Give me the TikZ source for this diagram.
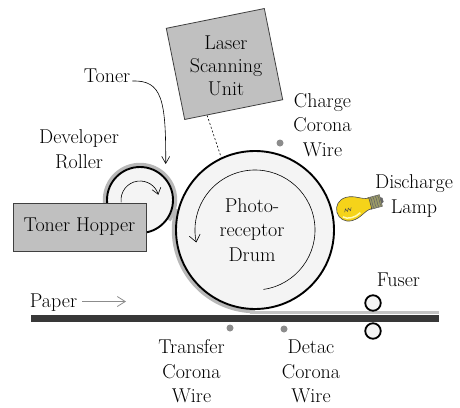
\documentclass[tikz,border=0pt]{standalone}
\usetikzlibrary{arrows.meta,calc}

\definecolor{boxgray}{HTML}{C0C0C0}
\definecolor{edgegray}{HTML}{404040}
\definecolor{paleface}{HTML}{F4F4F4}
\definecolor{tonergray}{HTML}{B8B8B8}
\definecolor{stripegray}{HTML}{C4C4C4}
\definecolor{papergray}{HTML}{383838}
\definecolor{wiregray}{HTML}{8C8C8C}
\definecolor{bulbyellow}{HTML}{F5D31A}
\definecolor{bulbbase}{HTML}{9C9C66}

\tikzset{
  lbl/.style={font=\rmfamily\fontsize{20}{24.5}\selectfont, align=center, inner sep=0pt},
  unitbox/.style={draw=edgegray, fill=boxgray, line width=0.8pt, inner sep=0pt},
  roll/.style={circle, draw=black, fill=paleface, line width=1.9pt, inner sep=0pt},
  wire/.style={circle, fill=wiregray, minimum size=7pt, inner sep=0pt},
  spin/.style={line width=0.6pt, -{Straight Barb[length=6pt,width=9pt]}},
  coat/.style={draw=tonergray, line width=3.5pt},
}

\begin{document}
\begin{tikzpicture}[x=1pt,y=-1pt]
\useasboundingbox (0,0) rectangle (460,407);

% toner coating on the roller and the drum
\draw[coat] (140,200) ++(160:35.5) arc[start angle=160, end angle=395, radius=35.5];
\draw[coat] (255,230) ++(195:81.5) arc[start angle=195, end angle=90, radius=81.5];

% paper with transferred toner
\fill[papergray] (31,315) rectangle (439,322);
\draw[stripegray, line width=3pt] (250,312.5) -- (439,312.5);

% developer roller
\node[roll, minimum size=66pt] (roller) at (140,200) {};
\draw[spin] (140,200) ++(173:19) arc[start angle=173, end angle=344, radius=19];

% photoreceptor drum
\node[roll, minimum size=158pt] (drum) at (255,230) {};
\draw[spin, -{Straight Barb[length=7pt,width=11pt]}] (255,230) ++(82:60) arc[start angle=82, end angle=-192, radius=60];
\node[lbl] (photo) at (252,230) {Photo-\\receptor\\Drum};

% toner hopper
\node[unitbox, lbl, minimum width=133pt, minimum height=48pt] (hopper) at (79.5,227) {Toner Hopper};

% laser scanning unit
\node[unitbox, minimum width=100pt, minimum height=93pt, rotate=11.4] (laser) at (224.5,64) {};
\node[lbl, font=\rmfamily\fontsize{20}{23}\selectfont] (lasertext) at (226,66) {Laser\\Scanning\\Unit};
\draw[dash pattern=on 2pt off 2pt, line width=0.6pt]
  ($(laser.south west)!0.23!(laser.south east)$) -- (drum.115);

% corona wires
\node[wire] (chargewire) at (280,143) {};
\node[wire] (transferwire) at (230,328) {};
\node[wire] (detacwire) at (284,329) {};

% fuser rollers
\node[roll, minimum size=15.5pt, line width=1.8pt] (fuserA) at (373,303) {};
\node[roll, minimum size=15.5pt, line width=1.8pt] (fuserB) at (373,331) {};

% discharge lamp
\begin{scope}[shift={(349,209)}, rotate=15]
  \filldraw[fill=bulbbase, draw=black!60, line width=0.5pt] (21,-6) rectangle (33,6);
  \foreach \t in {23.5,26,28.5,31}
    \draw[black!60, line width=0.6pt] (\t,-6) .. controls (\t+1.5,-2) and (\t-0.5,2) .. (\t+1,6);
  \filldraw[fill=black!60, draw=black!60] (33,-3) -- (35,-2) -- (35,2) -- (33,3) -- cycle;
  \filldraw[fill=bulbyellow, draw=black!70, line width=0.6pt]
    (22,-5.5) .. controls (14,-5.5) and (10,-12) .. (0,-12)
    .. controls (-7.5,-12) and (-12.5,-6.5) .. (-12.5,0)
    .. controls (-12.5,6.5) and (-7.5,12) .. (0,12)
    .. controls (10,12) and (14,5.5) .. (22,5.5) -- cycle;
  \draw[yellow!30!white, line width=1.5pt] (-8,6) .. controls (-4,10) and (4,10) .. (10,6.5);
  \draw[black!70, line width=0.5pt] (-5,2) -- (-3.5,-1) -- (-2,2) -- (-0.5,-1) -- (1,2) -- (2.5,-1);
\end{scope}

% labels
\node[lbl] (charge) at (322.5,125) {Charge\\Corona\\Wire};
\node[lbl] (discharge) at (414,196) {Discharge\\Lamp};
\node[lbl] (fuser) at (398.5,280) {Fuser};
\node[lbl] (developer) at (79,149) {Developer\\Roller};
\node[lbl] (toner) at (107,76) {Toner};
\node[lbl] (paper) at (53.5,302.5) {Paper};
\node[lbl] (transfer) at (191.5,371.5) {Transfer\\Corona\\Wire};
\node[lbl] (detac) at (311,371.5) {Detac\\Corona\\Wire};

% toner feed and paper direction arrows
\coordinate (tonertip) at (165.7,164);
\draw[line width=0.6pt, -{Straight Barb[length=7pt,width=8pt]}]
  (toner.east) ++(2,5) .. controls (162,80) and (166,100) .. (tonertip);
\coordinate (paperhead) at (126,301.5);
\draw[wiregray, line width=0.8pt, -{Straight Barb[length=8pt,width=10pt]}]
  (paper.east) ++(5,-1) -- (paperhead);
\end{tikzpicture}
\end{document}
